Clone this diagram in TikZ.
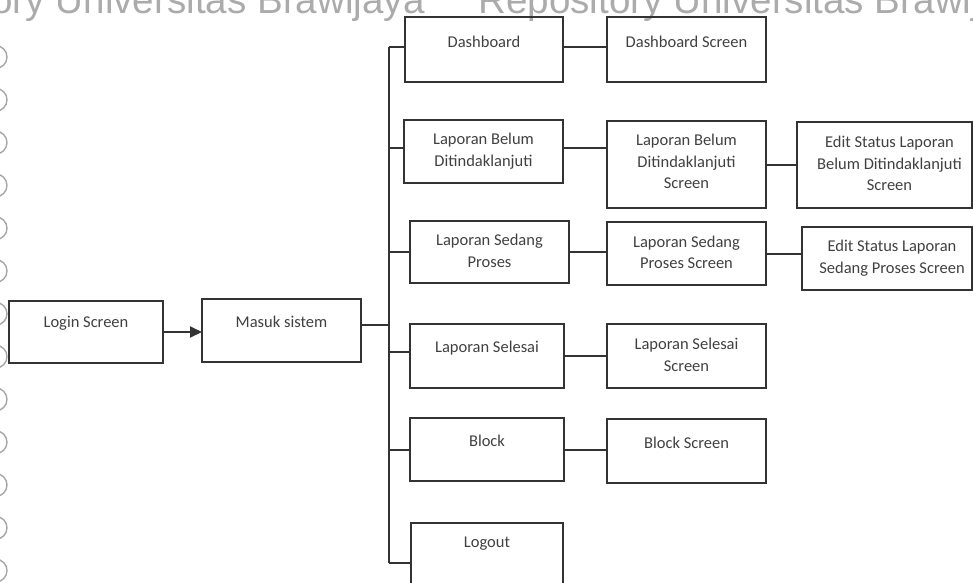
\documentclass[tikz,border=0pt]{standalone}
\usepackage{fontspec}
\setmainfont{Carlito}
\newfontfamily\wmfont{Liberation Sans}
\usetikzlibrary{arrows.meta}
\begin{document}
\begin{tikzpicture}[x=1pt,y=-1pt,
  box/.style={draw=black!80, line width=2pt, inner sep=0pt, outer sep=0pt},
  lbl/.style={text=black!75, font=\fontsize{16.5}{21.5}\selectfont, align=center, inner sep=0pt},
  link/.style={draw=black!80, line width=2pt},
  wm/.style={text=black!33, font=\wmfont\fontsize{38.6}{40}\selectfont, inner sep=0pt},
  ring/.style={draw=black!35, line width=1.4pt}]
\useasboundingbox (0,0) rectangle (973,582);

% repository watermark along the top edge and the margin rings
\node[wm, anchor=base east] (wm1) at (425,13) {Repository Universitas Brawijaya};
\node[wm, anchor=base west] (wm2) at (478,13) {Repository Universitas Brawijaya};
\foreach \k in {0,...,12}
  \draw[ring] (-4.4,57+42.8*\k) circle[radius=11.4];

% screens
\node[box, minimum width=154, minimum height=62] (login)  at (86,332) {};
\node[box, minimum width=159, minimum height=63] (masuk)  at (281.5,330.5) {};
\node[box, minimum width=158, minimum height=65] (dash)   at (484,49.5) {};
\node[box, minimum width=159, minimum height=65] (dashs)  at (686.5,49.5) {};
\node[box, minimum width=159, minimum height=63] (lb)     at (483.5,151.5) {};
\node[box, minimum width=159, minimum height=87] (lbs)    at (686.5,164.5) {};
\node[box, minimum width=175, minimum height=86] (elb)    at (884.5,165) {};
\node[box, minimum width=159, minimum height=62] (ls)     at (489.5,252) {};
\node[box, minimum width=159, minimum height=63] (lsps)   at (686.5,253.5) {};
\node[box, minimum width=170, minimum height=63] (elsp)   at (887,258.5) {};
\node[box, minimum width=154, minimum height=64] (sel)    at (487,356) {};
\node[box, minimum width=159, minimum height=64] (sels)   at (686.5,356) {};
\node[box, minimum width=154, minimum height=63] (blk)    at (487,449.5) {};
\node[box, minimum width=159, minimum height=64] (blks)   at (686.5,451) {};
\node[box, minimum width=152, minimum height=63] (logout) at (487,554.5) {};

% captions
\node[lbl, yshift=9pt]   (t-login)  at (login)  {Login Screen};
\node[lbl, yshift=8.5pt] (t-masuk)  at (masuk)  {Masuk sistem};
\node[lbl, yshift=7.5pt] (t-dash)   at (dash)   {Dashboard};
\node[lbl, yshift=7.5pt] (t-dashs)  at (dashs)  {Dashboard Screen};
\node[lbl, yshift=0.5pt] (t-lb)     at (lb)     {Laporan Belum\\Ditindaklanjuti};
\node[lbl, yshift=3pt]   (t-lbs)    at (lbs)    {Laporan Belum\\Ditindaklanjuti\\Screen};
\node[lbl, yshift=1.5pt, xshift=5pt] (t-elb) at (elb) {Edit Status Laporan\\Belum Ditindaklanjuti\\Screen};
\node[lbl, yshift=1pt]   (t-ls)     at (ls)     {Laporan Sedang\\Proses};
\node[lbl, yshift=1pt]   (t-lsps)   at (lsps)   {Laporan Sedang\\Proses Screen};
\node[lbl, yshift=0.5pt, xshift=5pt] (t-elsp) at (elsp) {Edit Status Laporan\\Sedang Proses Screen};
\node[lbl, yshift=8pt]   (t-sel)    at (sel)    {Laporan Selesai};
\node[lbl, yshift=1pt]   (t-sels)   at (sels)   {Laporan Selesai\\Screen};
\node[lbl, yshift=8.5pt] (t-blk)    at (blk)    {Block};
\node[lbl, yshift=8pt]   (t-blks)   at (blks)   {Block Screen};
\node[lbl, yshift=10.5pt] (t-logout) at (logout) {Logout};

% menu trunk and its branch points
\coordinate (m)  at (389,325);
\coordinate (b1) at (389,47);
\coordinate (b2) at (389,148);
\coordinate (b3) at (389,252);
\coordinate (b4) at (389,352);
\coordinate (b5) at (389,450);
\coordinate (b6) at (389,563);
\draw[link] (b1) -- (b6);
\draw[link] (masuk.east |- m) -- (m);
\draw[link] (b1) -- (b1 -| dash.west);
\draw[link] (b2) -- (b2 -| lb.west);
\draw[link] (b3) -- (b3 -| ls.west);
\draw[link] (b4) -- (b4 -| sel.west);
\draw[link] (b5) -- (b5 -| blk.west);
\draw[link] (b6) -- (b6 -| logout.west);

% login leads into the system
\draw[link, -{Triangle[length=12pt,width=11pt]}] (login.east) -- (login.east -| masuk.west);

% menu items to their screens
\draw[link] (b1 -| dash.east) -- (b1 -| dashs.west);
\draw[link] (b2 -| lb.east) -- (b2 -| lbs.west);
\draw[link] (lbs.east) -- (lbs.east -| elb.west);
\draw[link] (ls.east) -- (ls.east -| lsps.west);
\draw[link] (lsps.east) -- (lsps.east -| elsp.west);
\draw[link] (sel.east) -- (sel.east -| sels.west);
\draw[link] (blk.east) -- (blk.east -| blks.west);
\end{tikzpicture}
\end{document}
